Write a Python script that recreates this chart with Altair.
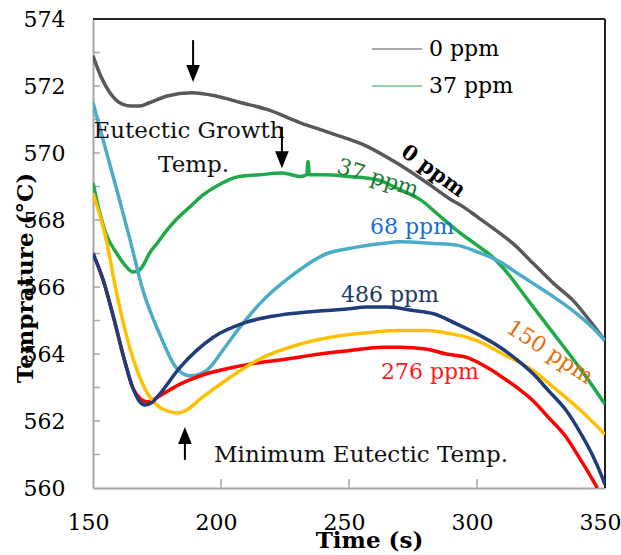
import altair as alt
import pandas as pd

FONT = "DejaVu Serif"

# ---- series data (time s, temperature °C) ----
series_names = ["0 ppm", "37 ppm", "68 ppm", "276 ppm", "150 ppm", "486 ppm"]
series_colors = ["#595959", "#1faa4a", "#4bacc6", "#ff0000", "#ffc000", "#1f3d7a"]

t_0 = [150, 153, 156.6, 161.7, 165, 168, 172, 179, 188.7, 198, 208, 218, 231, 242.6, 257, 268.7,
       281.6, 290, 294.5, 300, 309, 314, 322, 330, 337.5, 344, 350]
T_0 = [572.9, 572.3, 571.8, 571.45, 571.4, 571.4, 571.5, 571.7, 571.8, 571.7, 571.5, 571.3, 570.9,
       570.6, 570.2, 569.7, 569.05, 568.6, 568.4, 568.1, 567.6, 567.3, 566.7, 566.1, 565.6, 565.0,
       564.4]

t_37 = [150, 152.7, 155, 159.3, 162, 165.6, 168, 170, 172, 175, 178.9, 183, 188, 193, 198, 207,
        215, 224, 231, 233.5, 234, 234.5, 240, 250, 261, 270, 278, 285, 292, 299, 306, 311, 320,
        330, 340, 350]
T_37 = [569.1, 568.2, 567.6, 567.0, 566.7, 566.45, 566.5, 566.7, 567.0, 567.3, 567.7, 568.05,
        568.4, 568.75, 569.0, 569.3, 569.35, 569.4, 569.3, 569.35, 569.75, 569.35, 569.35, 569.3,
        569.2, 568.9, 568.6, 568.15, 567.7, 567.3, 566.9, 566.5, 565.6, 564.6, 563.6, 562.5]

t_68 = [150, 155, 160, 164.5, 169.5, 176, 182.4, 185, 188, 194.5, 200.8, 207.4, 216.4, 227, 241.4,
        250, 263, 270, 283, 292, 300, 309, 315, 322, 330, 339, 345, 350]
T_68 = [571.5, 570.1, 568.7, 567.4, 565.9, 564.6, 563.6, 563.42, 563.35, 563.52, 564.12, 564.8,
        565.6, 566.3, 567.0, 567.15, 567.3, 567.35, 567.3, 567.25, 567.05, 566.75, 566.45, 566.1,
        565.7, 565.2, 564.8, 564.4]

t_276 = [150, 154, 158, 162, 165.5, 168, 171.5, 176, 184, 192, 203.5, 213, 223, 241.4, 250, 263,
         270, 280, 288, 296, 305, 310, 315.6, 322, 328, 335, 340, 344, 347]
T_276 = [567.0, 566.2, 565.1, 563.9, 563.0, 562.7, 562.57, 562.75, 563.1, 563.35, 563.58, 563.72,
         563.82, 564.03, 564.1, 564.2, 564.2, 564.15, 564.0, 563.9, 563.55, 563.3, 563.0, 562.6,
         562.1, 561.5, 560.9, 560.4, 560.0]

t_150 = [150, 155.2, 159, 162.9, 166.8, 170.7, 176.2, 180, 183.2, 187, 191.8, 203.5, 216.4, 229.7,
         241.4, 250, 260, 270, 280, 290, 296, 300, 310, 322, 330, 340, 350]
T_150 = [568.8, 567.4, 565.9, 564.6, 563.6, 562.9, 562.4, 562.28, 562.24, 562.35, 562.65, 563.3,
         563.9, 564.27, 564.48, 564.58, 564.66, 564.7, 564.7, 564.6, 564.5, 564.4, 564.0, 563.5,
         563.0, 562.35, 561.6]

t_486 = [150, 154, 158, 162, 165.5, 168, 170.3, 173, 176, 184, 197, 210, 223, 241.4, 250, 257, 265,
         275, 283, 292, 300, 309, 316, 322, 328, 335, 340, 345, 349, 350]
T_486 = [567.0, 566.2, 565.1, 563.9, 563.0, 562.6, 562.48, 562.55, 562.8, 563.6, 564.5, 564.95,
         565.16, 565.3, 565.35, 565.4, 565.4, 565.3, 565.2, 564.9, 564.6, 564.2, 563.8, 563.4,
         562.9, 562.3, 561.7, 561.0, 560.3, 560.1]

# ---- axis ticks ----
x_tick_values = [150, 200, 250, 300, 350]
y_tick_values = [560, 562, 564, 566, 568, 570, 572, 574]
y_minor_ticks = [561, 562, 563, 564, 565, 566, 567, 568, 569, 570, 571, 572, 573]
x_minor_ticks = [200, 250, 300]

# ---- annotations ----
ann_text = ["Eutectic Growth", "Temp.", "Minimum Eutectic Temp."]
ann_t = [187.5, 189.3, 254.7]
ann_T = [570.45, 569.43, 560.78]

lab_text = ["0 ppm", "37 ppm", "68 ppm", "486 ppm", "150 ppm", "276 ppm"]
lab_t = [282.8, 261.3, 274.6, 266.0, 328.5, 281.6]
lab_T = [569.45, 569.25, 567.79, 565.76, 564.06, 563.45]
lab_angle = [36, 17, 0, 0, 33, 0]
lab_color = ["#000000", "#1b7a36", "#1a6fd0", "#1f3864", "#e36c0a", "#ff1a1a"]

arrow_t = [189.1, 223.8, 185.9]
arrow_tail_T = [573.37, 570.78, 560.84]
arrow_tip_T = [572.12, 569.55, 561.82]
arrow_dir = ["down", "down", "up"]

# ---- build tables ----
rows = []
for name, ts, Ts in [("0 ppm", t_0, T_0), ("37 ppm", t_37, T_37), ("68 ppm", t_68, T_68),
                     ("276 ppm", t_276, T_276), ("150 ppm", t_150, T_150), ("486 ppm", t_486, T_486)]:
    for i, (a, b) in enumerate(zip(ts, Ts)):
        rows.append({"series": name, "t": a, "T": b, "i": i})
df = pd.DataFrame(rows)

x_scale = alt.Scale(domain=[150, 350], nice=False, zero=False)
y_scale = alt.Scale(domain=[560, 574], nice=False, zero=False)

x_axis = alt.Axis(values=x_tick_values, title="Time (s)", grid=False, ticks=False, tickSize=0,
                  domainColor="#a6a6a6", domainWidth=2, labelFont=FONT, labelFontSize=22,
                  labelColor="black", labelPadding=41, labelBaseline="alphabetic", labelOffset=-5,
                  labelFlush=False, titleFont=FONT, titleFontSize=23, titleFontWeight="bold",
                  titleColor="black", titleX=276, titleY=59, titleBaseline="alphabetic",
                  titleAlign="center")
y_axis = alt.Axis(values=y_tick_values, title="Temprature (°C)", grid=False, ticks=False, tickSize=0,
                  domainColor="#a6a6a6", domainWidth=2, labelFont=FONT, labelFontSize=22,
                  labelColor="black", labelPadding=28, labelFlush=False, titleFont=FONT,
                  titleFontSize=23, titleFontWeight="bold", titleColor="black", titleAngle=270,
                  titleX=-61, titleY=258.5, titleBaseline="alphabetic", titleAlign="center")

lines = alt.Chart(df).mark_line(strokeWidth=3.5, clip=True, interpolate="monotone").encode(
    x=alt.X("t:Q", scale=x_scale, axis=x_axis),
    y=alt.Y("T:Q", scale=y_scale, axis=y_axis),
    color=alt.Color("series:N", scale=alt.Scale(domain=series_names, range=series_colors),
                    legend=alt.Legend(values=["0 ppm", "37 ppm"], orient="none", legendX=278,
                                      legendY=4, title=None, symbolType="stroke", symbolSize=2500,
                                      symbolStrokeWidth=2, symbolOpacity=0.5, labelFont=FONT,
                                      labelFontSize=22, labelColor="black", labelOffset=6,
                                      rowPadding=-10, padding=0)),
    order="i:Q",
)

# inward minor ticks
ytick_df = pd.DataFrame({"T": y_minor_ticks, "t0": [150] * len(y_minor_ticks),
                         "t1": [152.7] * len(y_minor_ticks)})
xtick_df = pd.DataFrame({"t": x_minor_ticks, "T0": [560] * len(x_minor_ticks),
                         "T1": [560.27] * len(x_minor_ticks)})
yticks = alt.Chart(ytick_df).mark_rule(color="#a6a6a6", strokeWidth=1.5).encode(
    x=alt.X("t0:Q", scale=x_scale), x2="t1:Q", y=alt.Y("T:Q", scale=y_scale))
xticks = alt.Chart(xtick_df).mark_rule(color="#a6a6a6", strokeWidth=1.5).encode(
    x=alt.X("t:Q", scale=x_scale), y=alt.Y("T0:Q", scale=y_scale), y2="T1:Q")

# top / right frame
frame_df = pd.DataFrame({"x0": [150, 350], "x1": [350, 350], "y0": [574, 560], "y1": [574, 574]})
frame = alt.Chart(frame_df).mark_rule(color="#222222", strokeWidth=2).encode(
    x=alt.X("x0:Q", scale=x_scale), x2="x1:Q", y=alt.Y("y0:Q", scale=y_scale), y2="y1:Q")

# annotations
ann_df = pd.DataFrame({"text": ann_text, "t": ann_t, "T": ann_T})
ann = alt.Chart(ann_df).mark_text(font=FONT, fontSize=23, color="#111111", baseline="alphabetic",
                                  align="center").encode(
    x=alt.X("t:Q", scale=x_scale), y=alt.Y("T:Q", scale=y_scale), text="text:N")

lab_df = pd.DataFrame({"text": lab_text, "t": lab_t, "T": lab_T, "angle": lab_angle,
                       "c": lab_color})
labels = alt.Chart(lab_df).transform_filter(alt.datum.text != "0 ppm").mark_text(
    font=FONT, fontSize=22, baseline="middle", align="center").encode(
    x=alt.X("t:Q", scale=x_scale), y=alt.Y("T:Q", scale=y_scale), text="text:N",
    angle=alt.Angle("angle:Q", scale=None), color=alt.Color("c:N", scale=None))
label0 = alt.Chart(lab_df).transform_filter(alt.datum.text == "0 ppm").mark_text(
    font=FONT, fontSize=21, fontWeight="bold", baseline="middle", align="center").encode(
    x=alt.X("t:Q", scale=x_scale), y=alt.Y("T:Q", scale=y_scale), text="text:N",
    angle=alt.Angle("angle:Q", scale=None), color=alt.Color("c:N", scale=None))

# arrows
arr_df = pd.DataFrame({"t": arrow_t, "tail": arrow_tail_T, "tip": arrow_tip_T, "dir": arrow_dir})
shafts = alt.Chart(arr_df).transform_calculate(
    end="datum.dir == 'down' ? datum.tip + 0.3 : datum.tip - 0.3").mark_rule(
    color="black", strokeWidth=2).encode(
    x=alt.X("t:Q", scale=x_scale), y=alt.Y("tail:Q", scale=y_scale), y2="end:Q")
heads = alt.Chart(arr_df).transform_calculate(
    hc="datum.dir == 'down' ? datum.tip + 0.25 : datum.tip - 0.25").mark_point(
    filled=True, color="black", opacity=1, size=289, strokeWidth=0).encode(
    x=alt.X("t:Q", scale=x_scale), y=alt.Y("hc:Q", scale=y_scale),
    shape=alt.Shape("dir:N", scale=alt.Scale(domain=["down", "up"],
                                             range=["M-0.8,-1L0.8,-1L0,1Z", "M-0.8,1L0.8,1L0,-1Z"]),
                    legend=None))

chart = alt.layer(yticks, xticks, frame, lines, ann, labels, label0, shafts, heads).resolve_scale(
    color="independent", shape="independent").properties(
    width=512, height=469,
    autosize=alt.AutoSizeParams(type="none"),
    padding={"left": 93, "top": 19, "right": 16, "bottom": 67},
    background="white",
).configure_view(stroke=None)

chart.save("out.html", embed_options={"renderer": "svg", "actions": False})
